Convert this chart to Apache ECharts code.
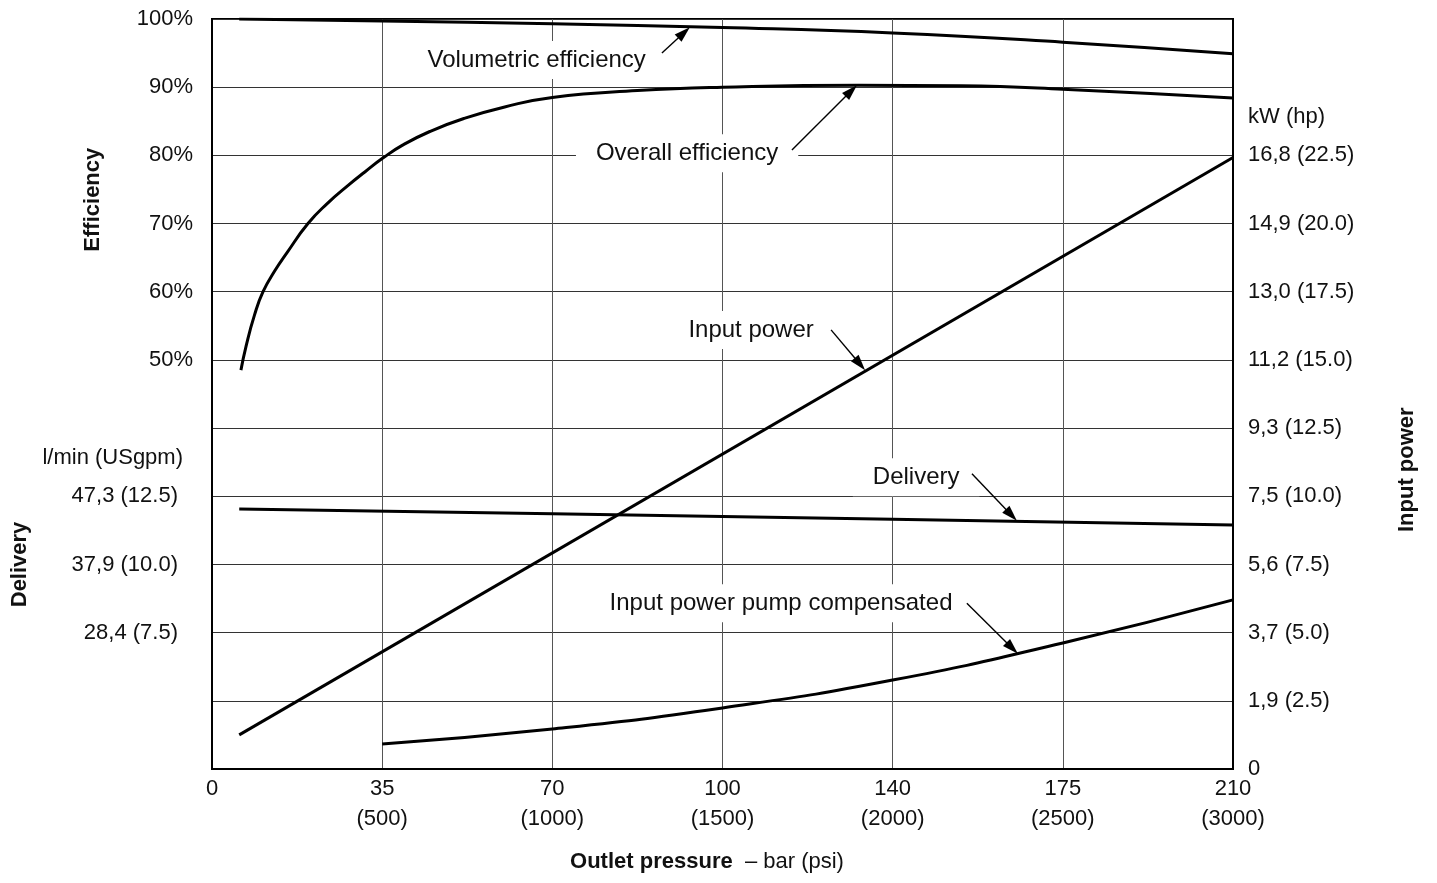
<!DOCTYPE html>
<html>
<head>
<meta charset="utf-8">
<script src="https://cdn.jsdelivr.net/npm/echarts@6/dist/echarts.min.js"></script>
<style>
  html, body { margin: 0; padding: 0; background: #fff; }
  #main { width: 1437px; height: 883px; }
</style>
</head>
<body>
<div id="main"></div>
<script>
// ---------- Data ----------
// x axis ticks (psi) and their bar labels
const psiTicks = [0, 500, 1000, 1500, 2000, 2500, 3000];
const barLabels = ['0', '35', '70', '100', '140', '175', '210'];

// Tick labels on the shared 0..11 grid
const effLabels = ['', '', '', '', '', '', '50%', '60%', '70%', '80%', '90%', '100%'];
const deliveryLabels = ['', '', '28,4 (7.5)', '37,9 (10.0)', '47,3 (12.5)', '', '', '', '', '', '', ''];
const powerLabels = ['0', '1,9 (2.5)', '3,7 (5.0)', '5,6 (7.5)', '7,5 (10.0)', '9,3 (12.5)', '11,2 (15.0)', '13,0 (17.5)', '14,9 (20.0)', '16,8 (22.5)', '', ''];
const deliveryUnitLabel = 'l/min (USgpm)';
const powerUnitLabel = 'kW (hp)';

// Series: [psi, value]
const volumetricEff = [[80, 100], [500, 99.7], [1000, 99.3], [1500, 98.75], [2000, 97.95], [2500, 96.6], [3000, 94.9]]; // %
const overallEff = [[85, 48.5], [100, 52], [125, 56.6], [150, 60], [185, 63.1], [220, 65.7], [282, 70], [340, 73.0], [400, 75.6], [450, 77.6], [502, 79.6], [560, 81.5], [640, 83.5], [740, 85.4], [860, 87.1], [1000, 88.5], [1250, 89.5], [1500, 90.0], [1900, 90.3], [2200, 90.2], [2500, 89.7], [3000, 88.4]]; // %
const deliveryGpm = [[80, 12.03], [1000, 11.86], [2000, 11.66], [3000, 11.45]]; // USgpm
const inputPowerHp = [[80, 1.25], [3000, 22.42]]; // hp
const compPowerHp = [[500, 0.92], [1000, 1.47], [1500, 2.24], [2000, 3.26], [2500, 4.62], [3000, 6.2]]; // hp

// Annotations: text, text anchor [psi, gridUnit], arrow from, arrow to
const annotTexts = ['Volumetric efficiency', 'Overall efficiency', 'Input power', 'Delivery', 'Input power pump compensated'];
const annotAnchors = [[954, 10.40], [1396, 9.03], [1584, 6.44], [2069, 4.28], [1672, 2.43]];
const arrowFrom = [[1322, 10.50], [1704, 9.08], [1819, 6.44], [2233, 4.33], [2218, 2.43]];
const arrowTo = [[1404, 10.88], [1895, 10.03], [1919, 5.85], [2365, 3.64], [2368, 1.69]];

// unit conversions onto the shared 0..11 grid
const effU = p => p / 10 + 1;
const gpmU = g => g / 2.5 - 1;
const hpU = h => h / 2.5;

// ---------- Chart ----------
const FONT = '"Liberation Sans", Arial, sans-serif';
const chart = echarts.init(document.getElementById('main'));

function lineSeries(name, data, conv, smooth) {
  return {
    name, type: 'line', xAxisIndex: 0, yAxisIndex: 0,
    data: data.map(d => [d[0], conv(d[1])]),
    showSymbol: false, symbol: 'none',
    smooth: smooth ? 0.5 : false,
    lineStyle: { color: '#000', width: 3 },
    z: 5, silent: true
  };
}

const baseY = {
  type: 'value', min: 0, max: 11, interval: 1,
  axisTick: { show: false },
};

const option = {
  animation: false,
  textStyle: { fontFamily: FONT },
  grid: { left: 212, right: 204, top: 19, bottom: 114, show: true, borderColor: '#000', borderWidth: 2, backgroundColor: 'transparent' },
  xAxis: {
    type: 'value', min: 0, max: 3000, interval: 500,
    axisLine: { show: true, lineStyle: { color: '#000', width: 2 } },
    axisTick: { show: false },
    splitLine: { show: true, lineStyle: { color: '#555', width: 1 } },
    axisLabel: {
      fontFamily: FONT, fontSize: 22, color: '#111', margin: 5, lineHeight: 30,
      formatter: v => {
        const i = psiTicks.indexOf(v);
        if (i < 0) return '';
        return i === 0 ? barLabels[i] : barLabels[i] + '\n(' + v + ')';
      }
    }
  },
  yAxis: [
    Object.assign({}, baseY, {
      position: 'left',
      axisLine: { show: true, lineStyle: { color: '#000', width: 2 } },
      splitLine: { show: true, lineStyle: { color: '#333', width: 1 } },
      axisLabel: { fontFamily: FONT, fontSize: 22, color: '#111', margin: 19, formatter: v => effLabels[v] || '' }
    }),
    Object.assign({}, baseY, {
      position: 'left',
      axisLine: { show: false },
      splitLine: { show: false },
      axisLabel: { fontFamily: FONT, fontSize: 22, color: '#111', margin: 34, formatter: v => deliveryLabels[v] || '' }
    }),
    Object.assign({}, baseY, {
      position: 'right',
      axisLine: { show: true, lineStyle: { color: '#000', width: 2 } },
      splitLine: { show: false },
      axisLabel: { fontFamily: FONT, fontSize: 22, color: '#111', margin: 15, formatter: v => powerLabels[v] || '' }
    })
  ],
  series: [
    lineSeries('Volumetric efficiency', volumetricEff, effU, true),
    lineSeries('Overall efficiency', overallEff, effU, true),
    lineSeries('Delivery', deliveryGpm, gpmU, true),
    lineSeries('Input power', inputPowerHp, hpU, false),
    lineSeries('Input power pump compensated', compPowerHp, hpU, true)
  ]
};
chart.setOption(option);

// ---------- Annotations (positioned through the chart's own scales) ----------
const px = d => chart.convertToPixel({ xAxisIndex: 0, yAxisIndex: 0 }, d);
const els = [];

function arrow(from, to) {
  const a = px(from), b = px(to);
  const dx = b[0] - a[0], dy = b[1] - a[1], L = Math.hypot(dx, dy);
  const ux = dx / L, uy = dy / L;
  const hl = 16, hw = 5;
  const base = [b[0] - ux * hl, b[1] - uy * hl];
  const n = [-uy, ux];
  els.push({ type: 'line', z: 30, silent: true, shape: { x1: a[0], y1: a[1], x2: base[0] + ux * 2, y2: base[1] + uy * 2 }, style: { stroke: '#000', lineWidth: 1.4 } });
  els.push({ type: 'polygon', z: 30, silent: true, shape: { points: [b, [base[0] + n[0] * hw, base[1] + n[1] * hw], [base[0] - n[0] * hw, base[1] - n[1] * hw]] }, style: { fill: '#000' } });
}

annotTexts.forEach((t, i) => {
  const p = px(annotAnchors[i]);
  els.push({
    type: 'text', z: 20, silent: true, x: p[0], y: p[1],
    style: { text: t, fontFamily: FONT, fontSize: 24, fill: '#111', align: 'center', verticalAlign: 'middle', backgroundColor: '#fff', padding: [7, 20] }
  });
  arrow(arrowFrom[i], arrowTo[i]);
});

// unit labels
const pd = px([0, 4.56]);
els.push({ type: 'text', z: 20, silent: true, x: pd[0] - 29, y: pd[1], style: { text: deliveryUnitLabel, fontFamily: FONT, fontSize: 22, fill: '#111', align: 'right', verticalAlign: 'middle' } });
const pk = px([3000, 9.56]);
els.push({ type: 'text', z: 20, silent: true, x: pk[0] + 15, y: pk[1], style: { text: powerUnitLabel, fontFamily: FONT, fontSize: 22, fill: '#111', align: 'left', verticalAlign: 'middle' } });

// axis titles
const pe = px([0, 8.35]);
els.push({ type: 'text', z: 20, silent: true, x: 93, y: pe[1], rotation: Math.PI / 2, style: { text: 'Efficiency', fontFamily: FONT, fontSize: 22, fontWeight: 'bold', fill: '#111', align: 'center', verticalAlign: 'middle' } });
const pdl = px([0, 3]);
els.push({ type: 'text', z: 20, silent: true, x: 20, y: pdl[1], rotation: Math.PI / 2, style: { text: 'Delivery', fontFamily: FONT, fontSize: 22, fontWeight: 'bold', fill: '#111', align: 'center', verticalAlign: 'middle' } });
const pip = px([3000, 4.39]);
els.push({ type: 'text', z: 20, silent: true, x: 1407, y: pip[1], rotation: Math.PI / 2, style: { text: 'Input power', fontFamily: FONT, fontSize: 22, fontWeight: 'bold', fill: '#111', align: 'center', verticalAlign: 'middle' } });
els.push({
  type: 'text', z: 20, silent: true, x: 707, y: 862,
  style: { text: '{b|Outlet pressure}  – bar (psi)', fontFamily: FONT, fontSize: 22, fill: '#111', align: 'center', verticalAlign: 'middle',
    rich: { b: { fontFamily: FONT, fontSize: 22, fontWeight: 'bold', fill: '#111' } } }
});

chart.setOption({ graphic: { elements: els } });
</script>
</body>
</html>
